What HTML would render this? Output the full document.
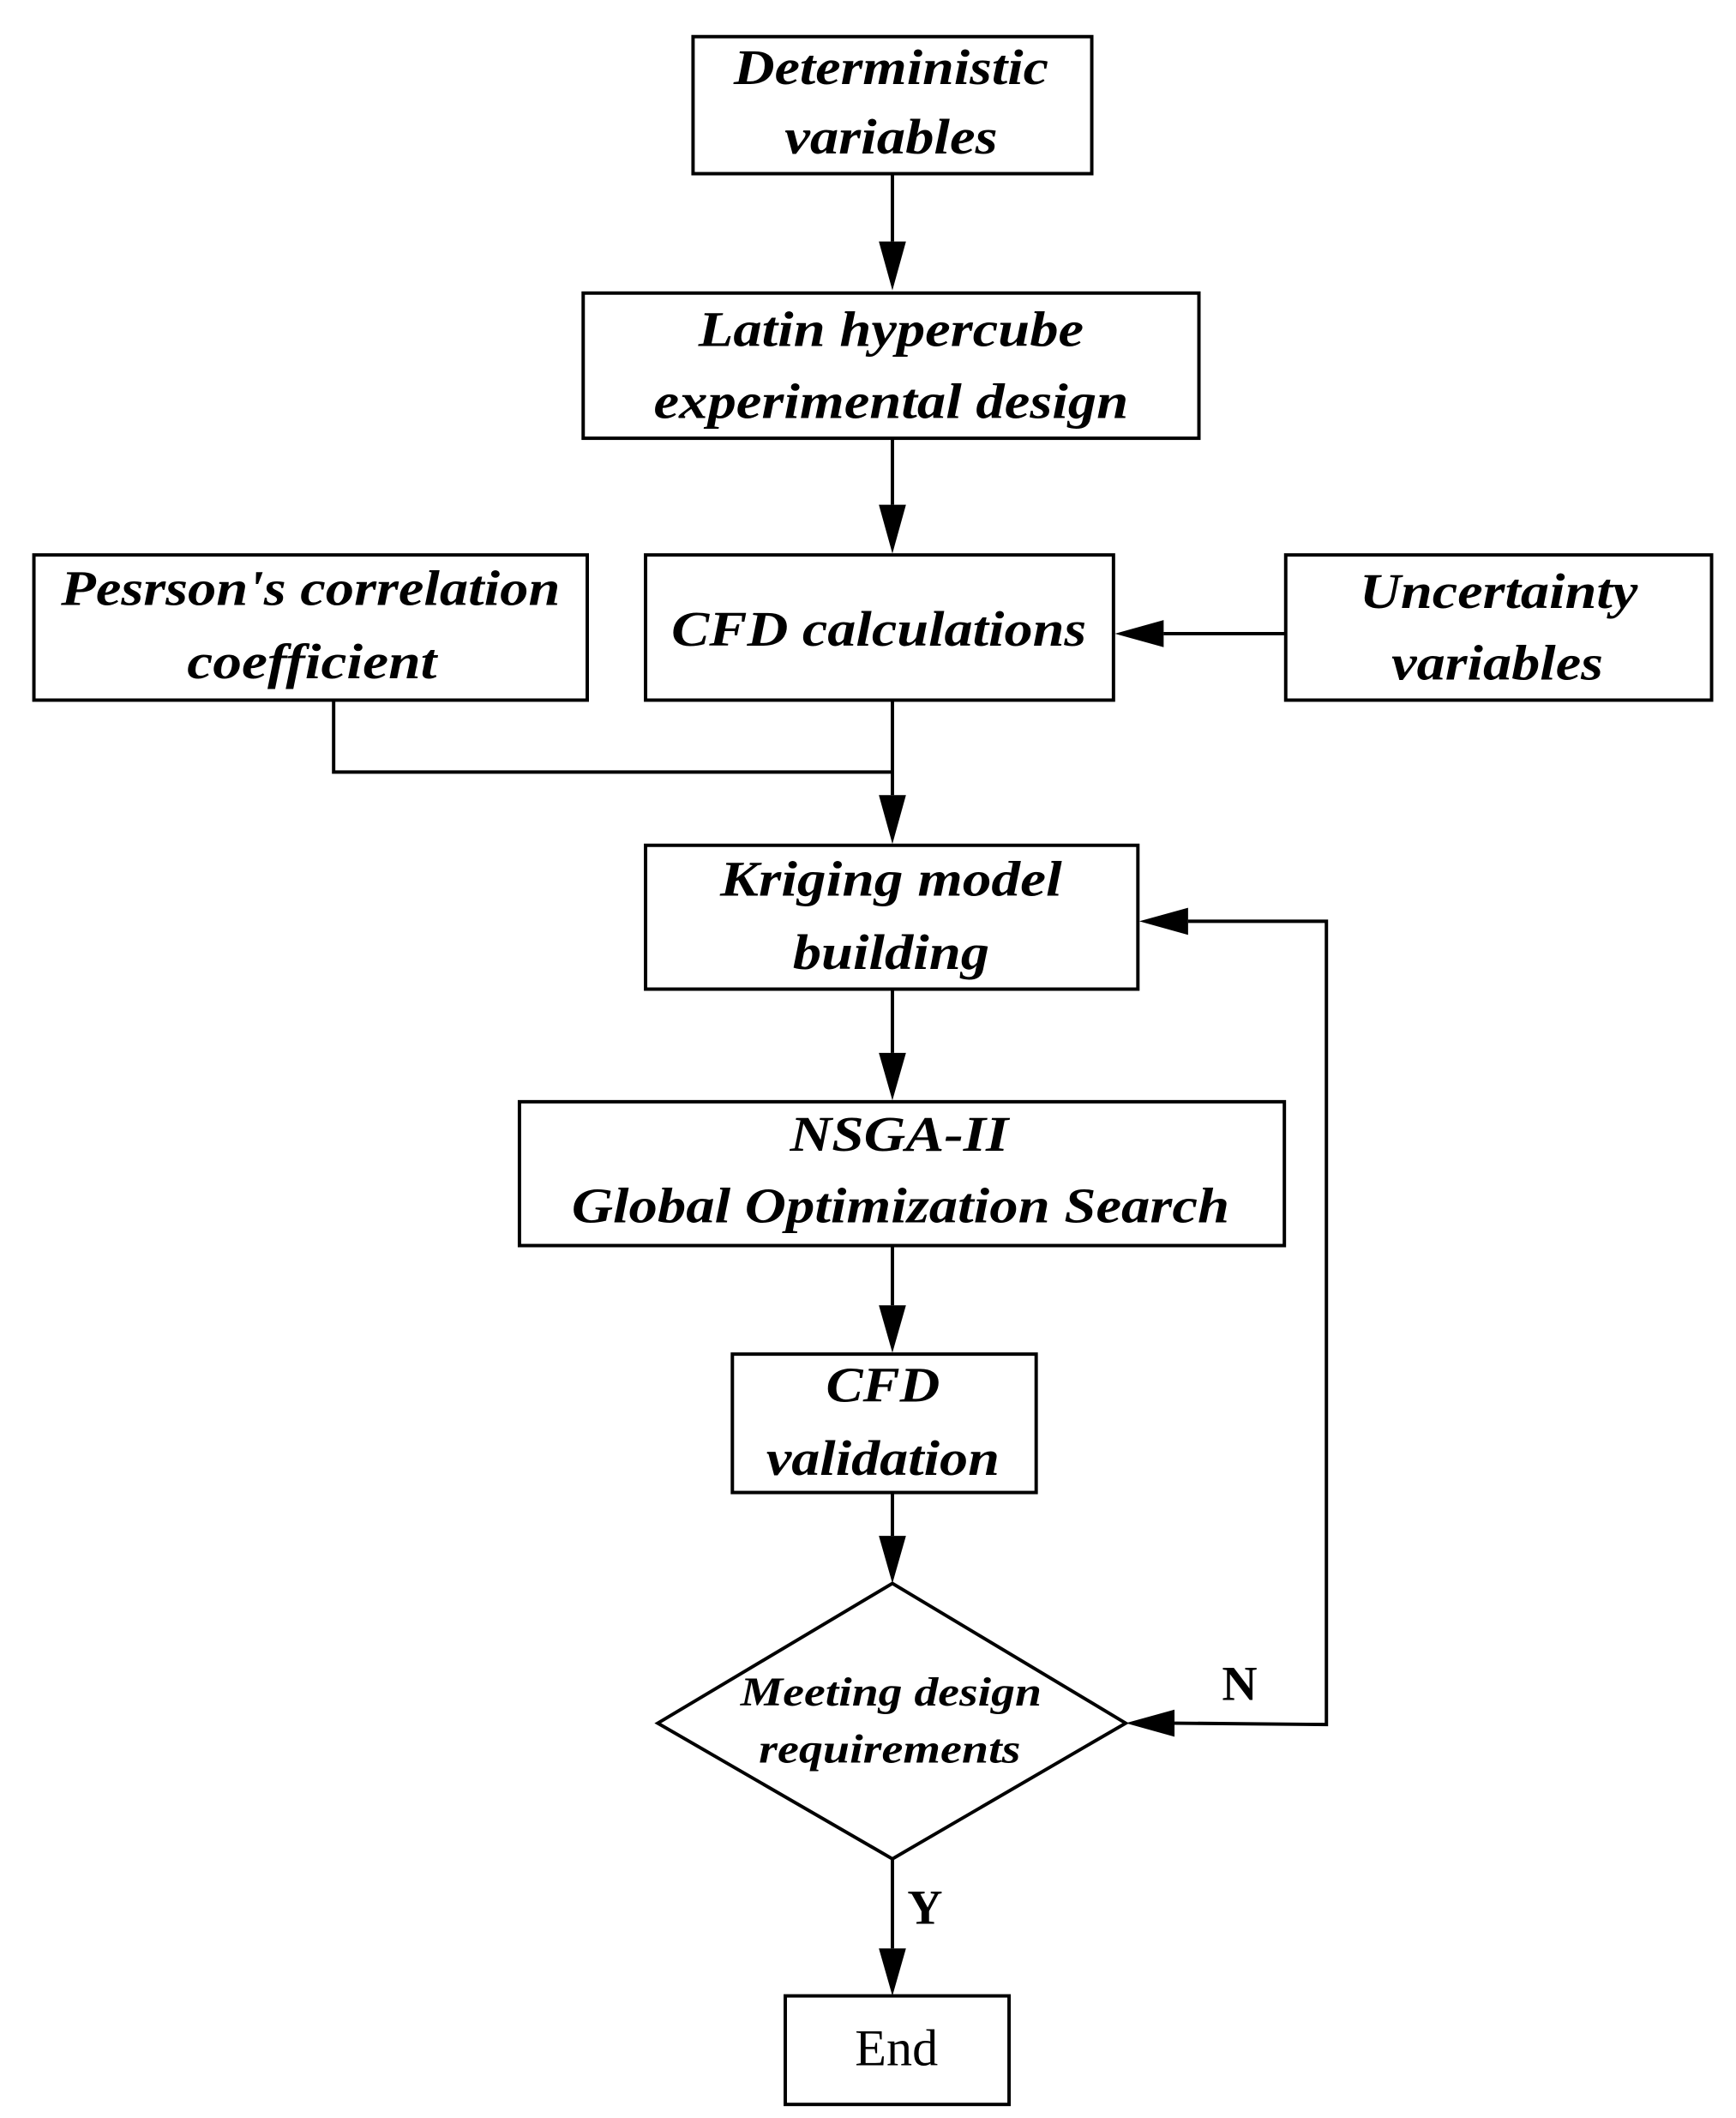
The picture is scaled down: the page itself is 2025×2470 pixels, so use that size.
<!DOCTYPE html>
<html><head><style>html,body{margin:0;padding:0;background:#fff}svg{display:block}</style></head>
<body>
<svg width="2025" height="2470" viewBox="0 0 1280 1561" preserveAspectRatio="none" xmlns="http://www.w3.org/2000/svg">
<g fill="none" stroke="#000" stroke-width="2.5">
<rect x="511" y="27" width="294" height="101" fill="#fff"/>
<rect x="430" y="216" width="454" height="107" fill="#fff"/>
<rect x="476" y="409" width="345" height="107" fill="#fff"/>
<rect x="25" y="409" width="408" height="107" fill="#fff"/>
<rect x="948" y="409" width="314" height="107" fill="#fff"/>
<rect x="476" y="623" width="363" height="106" fill="#fff"/>
<rect x="383" y="812" width="564" height="106" fill="#fff"/>
<rect x="540" y="998" width="224" height="102" fill="#fff"/>
<polygon points="658,1167 830,1270 658,1370 485,1270" fill="#fff"/>
<rect x="579" y="1471" width="165" height="80" fill="#fff"/>
<line x1="658" y1="128" x2="658" y2="178"/>
<line x1="658" y1="323" x2="658" y2="372"/>
<line x1="948" y1="467" x2="858" y2="467"/>
<polyline points="658,516 658,586"/>
<polyline points="246,516 246,569 658,569"/>
<line x1="658" y1="729" x2="658" y2="776"/>
<line x1="658" y1="918" x2="658" y2="962"/>
<line x1="658" y1="1100" x2="658" y2="1132"/>
<polyline points="866,1270 978,1271 978,679 876,679"/>
<line x1="658" y1="1370" x2="658" y2="1436"/>
</g>
<g fill="#000">
<polygon points="648,178 668,178 658,214"/>
<polygon points="648,372 668,372 658,408"/>
<polygon points="858,457 858,477 822,467"/>
<polygon points="648,586 668,586 658,622"/>
<polygon points="648,776 668,776 658,811"/>
<polygon points="648,962 668,962 658,997"/>
<polygon points="648,1132 668,1132 658,1167"/>
<polygon points="866,1260 866,1280 830,1270"/>
<polygon points="876,669 876,689 840,679"/>
<polygon points="648,1436 668,1436 658,1471"/>
</g>
<g font-family="'Liberation Serif',serif" font-style="italic" font-weight="bold" font-size="37" text-anchor="middle" fill="#000">
<text x="657" y="62" textLength="232" lengthAdjust="spacingAndGlyphs">Deterministic</text>
<text x="657" y="113" textLength="157" lengthAdjust="spacingAndGlyphs">variables</text>
<text x="657" y="255" textLength="284" lengthAdjust="spacingAndGlyphs">Latin hypercube</text>
<text x="657" y="308" textLength="350" lengthAdjust="spacingAndGlyphs">experimental design</text>
<text x="648" y="476" textLength="306" lengthAdjust="spacingAndGlyphs">CFD calculations</text>
<text x="229" y="446" textLength="368" lengthAdjust="spacingAndGlyphs">Pesrson's correlation</text>
<text x="230" y="500" textLength="184" lengthAdjust="spacingAndGlyphs">coefficient</text>
<text x="1105" y="448" textLength="205" lengthAdjust="spacingAndGlyphs">Uncertainty</text>
<text x="1104" y="501" textLength="156" lengthAdjust="spacingAndGlyphs">variables</text>
<text x="657" y="660" textLength="252" lengthAdjust="spacingAndGlyphs">Kriging model</text>
<text x="657" y="714" textLength="145" lengthAdjust="spacingAndGlyphs">building</text>
<text x="663" y="848" textLength="161" lengthAdjust="spacingAndGlyphs">NSGA-II</text>
<text x="664" y="901" textLength="485" lengthAdjust="spacingAndGlyphs">Global Optimization Search</text>
<text x="651" y="1033" textLength="84" lengthAdjust="spacingAndGlyphs">CFD</text>
<text x="651" y="1087" textLength="172" lengthAdjust="spacingAndGlyphs">validation</text>
<text x="657" y="1257" font-size="30" textLength="222" lengthAdjust="spacingAndGlyphs">Meeting design</text>
<text x="656" y="1299" font-size="30" textLength="193" lengthAdjust="spacingAndGlyphs">requirements</text>
</g>
<g font-family="'Liberation Serif',serif" fill="#000" text-anchor="middle">
<text x="914" y="1253" font-size="36" font-weight="bold">N</text>
<text x="682" y="1418" font-size="36" font-weight="bold">Y</text>
<text x="661" y="1522" font-size="38">End</text>
</g>
</svg>
</body></html>
